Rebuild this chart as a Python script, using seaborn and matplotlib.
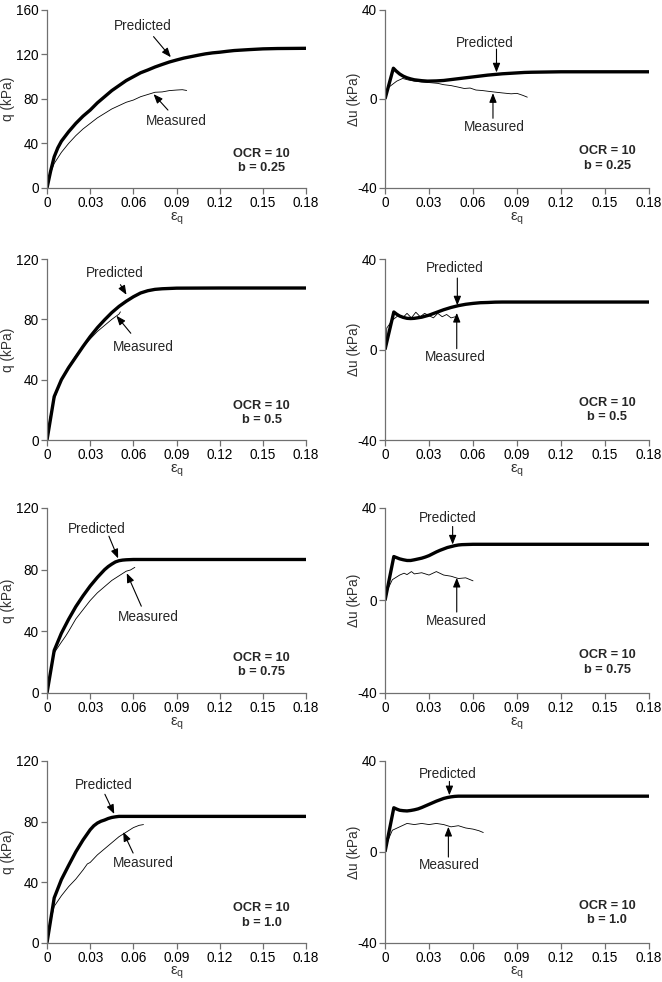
import numpy as np
import pandas as pd
import matplotlib
matplotlib.use("Agg")
import matplotlib.pyplot as plt
import seaborn as sns

# ---------------- data ----------------
# Row 1: b = 0.25
q1_pred_x = [0, 0.0025, 0.005, 0.0075, 0.01, 0.015, 0.02, 0.025, 0.03, 0.035, 0.04, 0.045, 0.05, 0.055, 0.06,
             0.065, 0.07, 0.075, 0.08, 0.085, 0.09, 0.095, 0.10, 0.105, 0.11, 0.115, 0.12, 0.125, 0.13, 0.14,
             0.15, 0.16, 0.18]
q1_pred_y = [0, 15, 28, 36, 42, 50.5, 58, 64.5, 70, 76.5, 82, 87.5, 92, 96.5, 100,
             103.5, 106, 108.7, 111, 113.2, 115, 116.7, 118, 119.3, 120.5, 121.4, 122, 122.8, 123.5, 124.3,
             125, 125.3, 125.5]
q1_meas_x = [0, 0.002, 0.005, 0.01, 0.015, 0.02, 0.025, 0.03, 0.035, 0.04, 0.045, 0.05, 0.055, 0.06, 0.065,
             0.07, 0.075, 0.08, 0.085, 0.09, 0.094, 0.097]
q1_meas_y = [0, 12, 22, 32, 40, 47, 53, 58, 63, 67, 71, 74, 77, 79, 82, 84, 86, 86.3, 87.5, 88, 88.3, 87.6]
u1_pred_x = [0, 0.0057, 0.0075, 0.01, 0.0125, 0.015, 0.0175, 0.02, 0.0225, 0.025, 0.029, 0.035, 0.04, 0.045,
             0.05, 0.055, 0.06, 0.065, 0.07, 0.075, 0.08, 0.085, 0.09, 0.095, 0.10, 0.11, 0.12, 0.18]
u1_pred_y = [0, 13.8, 12.6, 11.2, 10.2, 9.5, 9.0, 8.6, 8.4, 8.2, 8.0, 8.1, 8.3, 8.7,
             9.1, 9.5, 9.9, 10.3, 10.7, 11.0, 11.3, 11.5, 11.7, 11.9, 12.0, 12.1, 12.2, 12.2]
u1_meas_x = [0, 0.002, 0.005, 0.008, 0.012, 0.016, 0.02, 0.025, 0.031, 0.036, 0.04, 0.045, 0.05, 0.054, 0.058,
             0.062, 0.066, 0.072, 0.076, 0.08, 0.086, 0.09, 0.094, 0.097]
u1_meas_y = [0, 5, 6.5, 8, 9.2, 8.5, 8.0, 7.6, 7.3, 7.0, 6.4, 6.0, 5.3, 4.7, 4.9, 4.0, 3.8, 3.3, 3.0, 2.7, 2.3,
             2.5, 1.6, 0.8]

# Row 2: b = 0.5
q2_pred_x = [0, 0.005, 0.01, 0.015, 0.02, 0.025, 0.03, 0.035, 0.04, 0.045, 0.05, 0.055, 0.06, 0.065, 0.07,
             0.075, 0.08, 0.09, 0.12, 0.18]
q2_pred_y = [0, 28.8, 40, 48, 55, 62, 68.6, 74.5, 79.7, 84.5, 88.6, 92, 95, 97.5, 99,
             99.9, 100.3, 100.7, 100.8, 100.8]
q2_meas_x = [0, 0.002, 0.005, 0.01, 0.015, 0.02, 0.025, 0.03, 0.035, 0.04, 0.045, 0.05, 0.051]
q2_meas_y = [0, 15, 27, 40, 48.5, 56, 62, 67, 72, 76, 80, 83.5, 85]
u2_pred_x = [0, 0.006, 0.008, 0.01, 0.0125, 0.015, 0.0175, 0.02, 0.025, 0.03, 0.035, 0.04, 0.045, 0.05, 0.055,
             0.06, 0.065, 0.07, 0.075, 0.08, 0.09, 0.18]
u2_pred_y = [0, 16.6, 15.6, 14.8, 14.2, 13.8, 13.7, 13.8, 14.3, 15.2, 16.4, 17.6, 18.6, 19.4, 20.0,
             20.4, 20.7, 20.8, 20.95, 21.0, 21.0, 21.0]
u2_meas_x = [0, 0.001, 0.0012, 0.005, 0.009, 0.012, 0.015, 0.018, 0.021, 0.024, 0.027, 0.03, 0.033, 0.036,
             0.039, 0.042, 0.045, 0.048, 0.05]
u2_meas_y = [0, 0.5, 9.5, 13, 15, 14, 16, 14, 16.5, 14.5, 16, 15, 14, 16, 14.5, 15.5, 14, 14.5, 13]

# Row 3: b = 0.75
q3_pred_x = [0, 0.005, 0.01, 0.015, 0.02, 0.025, 0.03, 0.035, 0.04, 0.0425, 0.045, 0.0475, 0.05, 0.0525,
             0.055, 0.06, 0.09, 0.18]
q3_pred_y = [0, 27.6, 38.8, 47.8, 56, 63, 69.4, 75, 80, 82, 83.6, 85, 85.8, 86.2, 86.4, 86.6, 86.6, 86.6]
q3_meas_x = [0, 0.002, 0.005, 0.01, 0.013, 0.015, 0.02, 0.025, 0.03, 0.035, 0.04, 0.045, 0.05, 0.055, 0.058,
             0.061]
q3_meas_y = [0, 12, 26, 33, 37, 40, 48, 54, 60, 65, 69, 73, 76, 79, 79.8, 81.5]
u3_pred_x = [0, 0.006, 0.008, 0.01, 0.0125, 0.015, 0.0175, 0.02, 0.025, 0.0275, 0.03, 0.0325, 0.035, 0.0375,
             0.04, 0.0425, 0.045, 0.0475, 0.05, 0.0525, 0.055, 0.06, 0.18]
u3_pred_y = [0, 19, 18.5, 18, 17.6, 17.3, 17.3, 17.6, 18.3, 18.8, 19.4, 20.2, 21, 21.7,
             22.3, 22.9, 23.3, 23.7, 24.0, 24.15, 24.2, 24.3, 24.3]
u3_meas_x = [0, 0.002, 0.005, 0.01, 0.013, 0.015, 0.018, 0.02, 0.025, 0.03, 0.035, 0.04, 0.045, 0.05, 0.055,
             0.06]
u3_meas_y = [0, 5, 9, 11, 11.8, 11.2, 12.5, 11.5, 12, 11, 12.5, 11, 10.5, 9.5, 9.8, 8.5]

# Row 4: b = 1.0
q4_pred_x = [0, 0.005, 0.01, 0.015, 0.02, 0.025, 0.03, 0.0325, 0.035, 0.0375, 0.04, 0.0425, 0.045, 0.0475,
             0.05, 0.055, 0.06, 0.18]
q4_pred_y = [0, 29.6, 41.7, 51, 60, 67.8, 74.6, 77.2, 79, 80.2, 81, 82, 82.7, 83.1, 83.4, 83.4, 83.4, 83.4]
q4_meas_x = [0, 0.002, 0.005, 0.01, 0.015, 0.02, 0.025, 0.028, 0.03, 0.035, 0.04, 0.045, 0.05, 0.055, 0.06,
             0.064, 0.067]
q4_meas_y = [0, 12, 24, 31, 37, 42, 48, 52, 53, 58, 62, 66, 70, 73, 76, 77.5, 78]
u4_pred_x = [0, 0.006, 0.008, 0.01, 0.0125, 0.015, 0.0175, 0.02, 0.0225, 0.025, 0.0275, 0.03, 0.0325, 0.035,
             0.0375, 0.04, 0.0425, 0.045, 0.0475, 0.05, 0.18]
u4_pred_y = [0, 19.4, 18.8, 18.3, 18.1, 18, 18.2, 18.5, 18.9, 19.5, 20.2, 20.9, 21.6, 22.3,
             22.9, 23.5, 23.9, 24.2, 24.4, 24.5, 24.5]
u4_meas_x = [0, 0.002, 0.005, 0.01, 0.015, 0.02, 0.025, 0.03, 0.035, 0.04, 0.045, 0.05, 0.055, 0.06, 0.064,
             0.067]
u4_meas_y = [0, 5, 9.5, 11, 12.5, 12, 12.5, 12, 12.5, 12, 11, 11.5, 10.5, 10, 9.3, 8.5]

b_values = ["0.25", "0.5", "0.75", "1.0"]
x_ticks = [0, 0.03, 0.06, 0.09, 0.12, 0.15, 0.18]
x_tick_labels = ["0", "0.03", "0.06", "0.09", "0.12", "0.15", "0.18"]
q_ticks_top = [0, 40, 80, 120, 160]
q_ticks = [0, 40, 80, 120]
u_ticks = [-40, 0, 40]

q_series = [(q1_pred_x, q1_pred_y, q1_meas_x, q1_meas_y),
            (q2_pred_x, q2_pred_y, q2_meas_x, q2_meas_y),
            (q3_pred_x, q3_pred_y, q3_meas_x, q3_meas_y),
            (q4_pred_x, q4_pred_y, q4_meas_x, q4_meas_y)]
u_series = [(u1_pred_x, u1_pred_y, u1_meas_x, u1_meas_y),
            (u2_pred_x, u2_pred_y, u2_meas_x, u2_meas_y),
            (u3_pred_x, u3_pred_y, u3_meas_x, u3_meas_y),
            (u4_pred_x, u4_pred_y, u4_meas_x, u4_meas_y)]

# ---------------- style ----------------
sns.set_style("ticks")
plt.rcParams["font.family"] = ["Liberation Sans", "DejaVu Sans"]
plt.rcParams["mathtext.fontset"] = "custom"
plt.rcParams["mathtext.rm"] = "Liberation Sans"
plt.rcParams["mathtext.it"] = "Liberation Sans"
plt.rcParams["mathtext.bf"] = "Liberation Sans:bold"

FS = 9.8
GRAY = "#707070"

fig = plt.figure(figsize=(6.62, 9.82), dpi=100)

# layout (figure fractions)
row_boxes = [(0.8086, 0.1813), (0.5519, 0.1843), (0.2943, 0.1884), (0.0400, 0.1851)]
left_x, left_w = 0.0710, 0.3915
right_x, right_w = 0.5816, 0.3988

# annotation layout: (text_xy, arrow_tail, arrow_head) in data coords
q_ann = [
    (((0.0666, 145.6), (0.074, 136), (0.086, 117.5)), ((0.090, 59.8), (0.084, 70), (0.074, 84.3))),
    (((0.047, 111), (0.051, 103), (0.0552, 96.3)), ((0.0668, 62), (0.0582, 70.8), (0.0482, 82.4))),
    (((0.0345, 106.5), (0.043, 101.7), (0.0494, 87.3)), ((0.0703, 49.3), (0.0655, 56.3), (0.0554, 77.7))),
    (((0.0393, 103.8), (0.0402, 98), (0.0467, 85)), ((0.0669, 52.7), (0.0598, 59.2), (0.0529, 73.1))),
]
u_ann = [
    (((0.068, 25.2), (0.076, 22.4), (0.076, 11.9)), ((0.0743, -12.5), (0.0736, -8.7), (0.0736, 2.6))),
    (((0.0473, 36), (0.0493, 31.6), (0.0493, 19.5)), ((0.048, -3.5), (0.0489, 0.4), (0.0489, 16.2))),
    (((0.043, 35.7), (0.0461, 32), (0.0461, 24.2)), ((0.0489, -8.9), (0.0489, -5), (0.0489, 9.8))),
    (((0.0425, 34.2), (0.0439, 31), (0.0439, 24.9)), ((0.0441, -5.9), (0.0432, -2.3), (0.0432, 11))),
]

arrow_kw = dict(arrowstyle="-|>,head_length=0.55,head_width=0.22", color="black", lw=0.8,
                mutation_scale=10, shrinkA=0, shrinkB=0)


def style_axis(ax, yticks, ylabel, label_x):
    sns.despine(ax=ax)
    for s in ("left", "bottom"):
        ax.spines[s].set_color(GRAY)
        ax.spines[s].set_linewidth(0.9)
    ax.set_xlim(0, 0.18)
    ax.set_ylim(yticks[0], yticks[-1])
    ax.set_xticks(x_ticks)
    ax.set_xticklabels(x_tick_labels)
    ax.set_yticks(yticks)
    ax.set_yticklabels([str(t) for t in yticks])
    ax.tick_params(direction="out", length=4, width=0.9, color=GRAY,
                   labelsize=FS, labelcolor="black", pad=2)
    ax.set_xlabel(r"$\varepsilon_\mathrm{q}$", fontsize=FS + 1, color="#333333", labelpad=0)
    ax.set_ylabel(ylabel, fontsize=FS, color="#333333")
    ax.yaxis.set_label_coords(label_x, 0.5)
    ax.grid(False)


def draw_curves(ax, px, py, mx, my):
    dp = pd.DataFrame({"strain": px, "val": py})
    dm = pd.DataFrame({"strain": mx, "val": my})
    sns.lineplot(data=dp, x="strain", y="val", ax=ax, color="black", lw=2.4,
                 sort=False, estimator=None, solid_capstyle="butt", solid_joinstyle="round")
    sns.lineplot(data=dm, x="strain", y="val", ax=ax, color="black", lw=0.6,
                 sort=False, estimator=None)


def annotate(ax, ann):
    for label, (txt, tail, head) in zip(["Predicted", "Measured"], ann):
        ax.text(txt[0], txt[1], label, fontsize=FS, ha="center", va="center")
        ax.annotate("", xy=head, xytext=tail, arrowprops=arrow_kw)


for i in range(4):
    yb, h = row_boxes[i]
    axl = fig.add_axes([left_x, yb, left_w, h])
    axr = fig.add_axes([right_x, yb, right_w, h])

    px, py, mx, my = q_series[i]
    draw_curves(axl, px, py, mx, my)
    style_axis(axl, q_ticks_top if i == 0 else q_ticks, "q (kPa)", -0.125)
    annotate(axl, q_ann[i])
    axl.text(0.828, 0.15, f"OCR = 10\nb = {b_values[i]}", transform=axl.transAxes,
             ha="center", va="center", fontsize=9.2, fontweight="bold", linespacing=1.25)

    px, py, mx, my = u_series[i]
    draw_curves(axr, px, py, mx, my)
    style_axis(axr, u_ticks, "Δu (kPa)", -0.09)
    annotate(axr, u_ann[i])
    axr.text(0.842, 0.165, f"OCR = 10\nb = {b_values[i]}", transform=axr.transAxes,
             ha="center", va="center", fontsize=9.2, fontweight="bold", linespacing=1.25)

fig.savefig("out.png", dpi=100)
